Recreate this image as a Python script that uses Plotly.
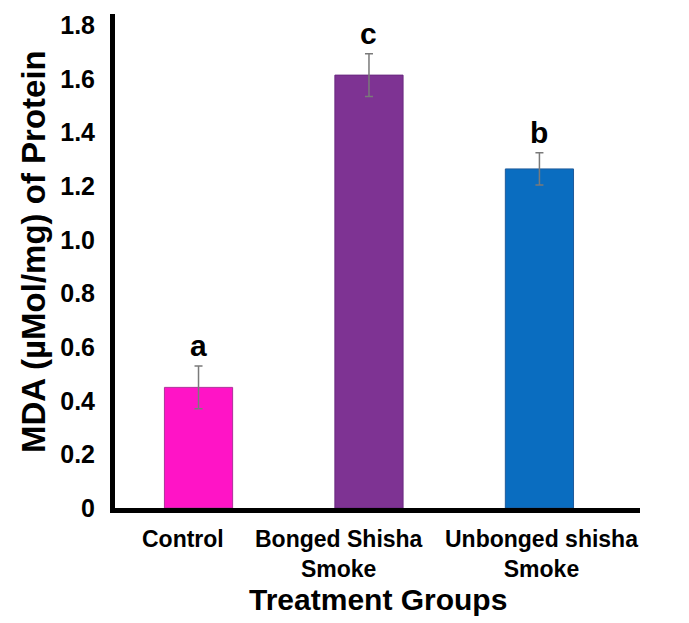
import plotly.graph_objects as go

# MDA level per treatment group with standard error and significance letters
groups = ["Control", "Bonged Shisha Smoke", "Unbonged shisha Smoke"]
group_labels = ["Control", "Bonged Shisha<br>Smoke", "Unbonged shisha<br>Smoke"]
mda = [0.45, 1.615, 1.265]
mda_err = [0.08, 0.08, 0.06]
sig_letters = ["a", "c", "b"]
bar_colors = ["#FF14C6", "#7E3393", "#0A6DC0"]
edge_colors = ["#B0309A", "#6A2A80", "#1F5A9A"]

y_tickvals = [0, 0.2, 0.4, 0.6, 0.8, 1.0, 1.2, 1.4, 1.6, 1.8]
y_ticktext = ["0", "0.2", "0.4", "0.6", "0.8", "1.0", "1.2", "1.4", "1.6", "1.8"]

FONT = "Liberation Sans, Arial, sans-serif"
xpos = list(range(len(groups)))

fig = go.Figure()
fig.add_trace(go.Bar(
    x=xpos,
    y=mda,
    width=0.4,
    marker=dict(color=bar_colors, line=dict(color=edge_colors, width=1)),
    error_y=dict(type="data", array=mda_err, visible=True,
                 color="#7a7a7a", thickness=1.5, width=4),
    showlegend=False,
))

# significance letters above the error bars
for xi, v, e, s in zip(xpos, mda, mda_err, sig_letters):
    fig.add_annotation(x=xi, y=v + e, xref="x", yref="y", text=f"<b>{s}</b>",
                       showarrow=False, yanchor="bottom", yshift=2,
                       font=dict(family=FONT, size=30, color="black"))

# category labels under the axis
label_shift = [-16, -30, 2]
for xi, lab, dx in zip(xpos, group_labels, label_shift):
    fig.add_annotation(x=xi, y=0, xref="x", yref="paper", text=f"<b>{lab}</b>",
                       showarrow=False, yanchor="top", yshift=-16, xshift=dx,
                       font=dict(family=FONT, size=23, color="black"))

# axis titles
fig.add_annotation(x=0.5, y=0, xref="paper", yref="paper",
                   text="<b>Treatment Groups</b>", showarrow=False,
                   yanchor="top", yshift=-73,
                   font=dict(family=FONT, size=30, color="black"))
fig.add_annotation(x=0, y=0.5, xref="paper", yref="paper",
                   text="<b>MDA (µMol/mg) of Protein</b>", showarrow=False,
                   textangle=-90, xanchor="center", xshift=-82, yshift=9,
                   font=dict(family=FONT, size=33, color="black"))

fig.update_layout(
    width=689, height=623,
    margin=dict(l=115, r=49, t=14, b=115),
    paper_bgcolor="white", plot_bgcolor="white",
    xaxis=dict(range=[-0.49, 2.59], showticklabels=False, showgrid=False,
               zeroline=False, showline=True, linecolor="black", linewidth=5,
               ticks=""),
    yaxis=dict(range=[0, 1.843], tickvals=y_tickvals,
               ticktext=[f"<b>{t}</b>" for t in y_ticktext],
               showgrid=False, zeroline=False, showline=True,
               linecolor="black", linewidth=5, ticks="",
               ticklabelstandoff=10,
               tickfont=dict(family=FONT, size=25, color="black")),
    font=dict(family=FONT, color="black"),
)

fig.write_html("out.html")
